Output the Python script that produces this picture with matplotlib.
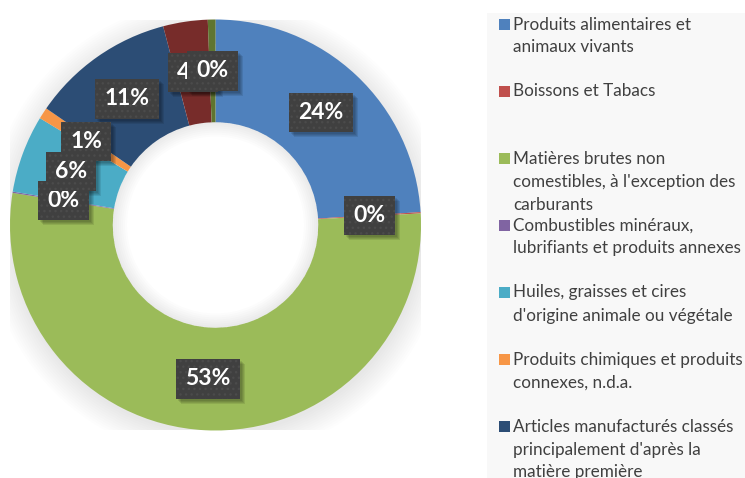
import numpy as np
import matplotlib
matplotlib.use('Agg')
import matplotlib.pyplot as plt
from matplotlib.patches import Rectangle, Wedge

plt.rcParams['font.family'] = ['Lato', 'DejaVu Sans']
plt.rcParams['hatch.linewidth'] = 1.0

categories = [
    "Produits alimentaires et animaux vivants",
    "Boissons et Tabacs",
    "Matières brutes non comestibles, à l'exception des carburants",
    "Combustibles minéraux, lubrifiants et produits annexes",
    "Huiles, graisses et cires d'origine animale ou végétale",
    "Produits chimiques et produits connexes, n.d.a.",
    "Articles manufacturés classés principalement d'après la matière première",
    "Machines et matériel de transport",
    "Articles manufacturés divers",
]
shares = [24.0, 0.1, 53.4, 0.1, 6.1, 0.9, 11.3, 3.5, 0.6]
share_labels = ["24%", "0%", "53%", "0%", "6%", "1%", "11%", "4%", "0%"]
colors = ['#4F81BD', '#C0504D', '#9BBB59', '#8064A2', '#4BACC6',
          '#F79646', '#2C4D75', '#772C2A', '#5F7530']

# legend text as wrapped in the original (only the entries that fit)
legend_lines = [
    ["Produits alimentaires et", "animaux vivants"],
    ["Boissons et Tabacs"],
    ["Matières brutes non", "comestibles, à l'exception des", "carburants"],
    ["Combustibles minéraux,", "lubrifiants et produits annexes"],
    ["Huiles, graisses et cires", "d'origine animale ou végétale"],
    ["Produits chimiques et produits", "connexes, n.d.a."],
    ["Articles manufacturés classés", "principalement d'après la", "matière première"],
]

W, H = 745, 478
fig = plt.figure(figsize=(W / 100, H / 100), dpi=100)
fig.patch.set_facecolor('white')

def fx(x):
    return x / W

def fy(y):
    return 1 - y / H

# legend background
fig.patches.append(Rectangle((fx(487), 0), 1 - fx(487), fy(13),
                             transform=fig.transFigure, fc='#f8f8f8', ec='none', zorder=0))

cx, cy, R = 215.5, 225, 205.5
ax = fig.add_axes([fx(cx - R), fy(cy + R), 2 * R / W, 2 * R / H])
ax.axis('off')

# soft shadow around the ring
for r in np.linspace(1.12, 1.0, 12):
    ax.add_patch(Wedge((0.005, -0.02), r, 0, 360, width=r - 0.9, fc='k', ec='none',
                       alpha=0.007, zorder=0))

wedges, _ = ax.pie(shares, colors=colors, startangle=90, counterclock=False,
                   radius=1, wedgeprops=dict(width=0.5, linewidth=0))

# shadow inside the hole
for r in np.linspace(0.49, 0.43, 7):
    ax.add_patch(Wedge((0, 0), 0.5, 0, 360, width=0.5 - r, fc='k', ec='none',
                       alpha=0.012, zorder=3))

ax.set_xlim(-1, 1)
ax.set_ylim(-1, 1)

# data labels in the middle of each slice
total = sum(shares)
start = 0.0
label_texts = []
for val, lab in zip(shares, share_labels):
    mid = np.deg2rad((start + val / 2) / total * 360)
    start += val
    x, y = 0.75 * np.sin(mid), 0.75 * np.cos(mid)
    t = ax.text(x, y, lab, ha='center', va='center', fontsize=16.5, fontweight='bold',
                color='white', zorder=6,
                bbox=dict(boxstyle='square,pad=0.4', fc='#404040', ec='#4b4b4b',
                          lw=0, hatch='...'))
    label_texts.append(t)

# drop shadows under the label boxes
fig.canvas.draw()
for t in label_texts:
    bb = t.get_bbox_patch().get_window_extent()
    for k in (2, 3, 4, 5):
        fig.patches.append(Rectangle((bb.x0 + k, bb.y0 - k), bb.width, bb.height,
                                     transform=None, fc='k', ec='none', alpha=0.09))

# labels go to figure level so they sit above the shadows
for t in label_texts:
    t.remove()
    fig.texts.append(t)
    t.set_figure(fig)
    t.set_transform(ax.transData)

# legend
for i, lines in enumerate(legend_lines):
    top = 24.5 + 67 * i
    fig.patches.append(Rectangle((fx(499), fy(top + 5.5)), 11 / W, 11 / H,
                                 transform=fig.transFigure, fc=colors[i], ec='none'))
    for k, line in enumerate(lines):
        fig.text(fx(513), fy(top + 23 * k), line, ha='left', va='center',
                 fontsize=12.3, color='#404040')

fig.savefig('out.png', dpi=100, facecolor='white')
